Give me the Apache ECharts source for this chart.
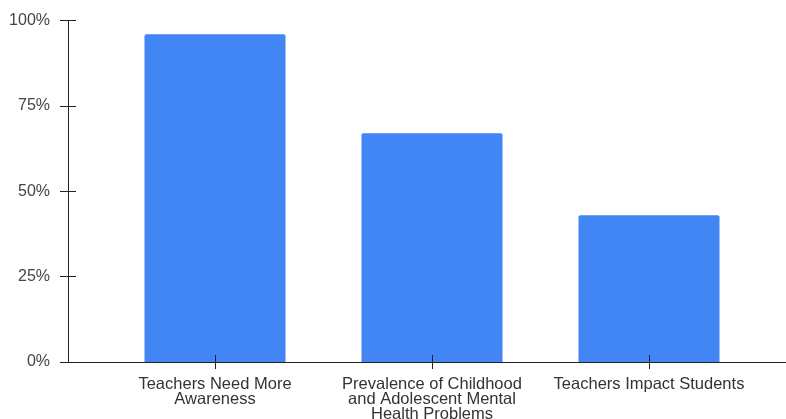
<!DOCTYPE html>
<html>
<head>
<meta charset="utf-8">
<script src="https://cdn.jsdelivr.net/npm/echarts@6/dist/echarts.min.js"></script>
<style>
html,body{margin:0;padding:0;background:#fff;}
#chart{width:786px;height:419px;}
</style>
</head>
<body>
<div id="chart"></div>
<script>
const categories = [
  "Teachers Need More\nAwareness",
  "Prevalence of Childhood\nand Adolescent Mental\nHealth Problems",
  "Teachers Impact Students"
];
const values = [96, 67, 43];
const yTicks = [0, 25, 50, 75, 100];

const FONT = "'Liberation Sans', Arial, sans-serif";
const chart = echarts.init(document.getElementById('chart'), null, {renderer: 'canvas'});
const frame = {top: 20.5, bottom: 57};
const barBox = {left: 106.5, right: 28.5};
const g = (l, r) => ({left: l, right: r, top: frame.top, bottom: frame.bottom, outerBoundsMode: 'none', containLabel: false});

chart.setOption({
  animation: false,
  grid: [g(68, 0), g(68, 0), g(barBox.left, barBox.right), g(barBox.left, barBox.right)],
  xAxis: [
    {gridIndex: 0, type: 'value', min: 0, max: 1, z: 10,
     axisLine: {show: true, onZero: false, lineStyle: {color: '#222', width: 1}},
     axisTick: {show: false}, axisLabel: {show: false}, splitLine: {show: false}},
    {gridIndex: 1, type: 'value', min: 0, max: 1, show: false},
    {gridIndex: 2, type: 'category', data: categories, z: 10,
     axisLine: {show: false},
     axisTick: {show: true, alignWithLabel: true, inside: false, length: 7, lineStyle: {color: '#222'}},
     axisLabel: {show: true, margin: 15, fontSize: 16.5, lineHeight: 15, color: '#333', fontFamily: FONT, interval: 0, align: 'center'},
     splitLine: {show: false}},
    {gridIndex: 3, type: 'category', data: categories, z: 10,
     axisLine: {show: false},
     axisTick: {show: true, alignWithLabel: true, inside: true, length: 7, lineStyle: {color: '#222'}},
     axisLabel: {show: false}, splitLine: {show: false}}
  ],
  yAxis: [
    {gridIndex: 0, type: 'value', min: yTicks[0], max: yTicks[yTicks.length-1], interval: 25, z: 10,
     axisLine: {show: true, lineStyle: {color: '#222', width: 1}},
     axisTick: {show: true, inside: false, length: 8, lineStyle: {color: '#222'}},
     axisLabel: {show: true, margin: 18, fontSize: 16, color: '#444', fontFamily: FONT, formatter: '{value}%'},
     splitLine: {show: false}},
    {gridIndex: 1, type: 'value', min: 0, max: 100, interval: 25, z: 10,
     axisLine: {show: false},
     axisTick: {show: true, inside: true, length: 8, lineStyle: {color: '#222'}},
     axisLabel: {show: false}, splitLine: {show: false}},
    {gridIndex: 2, type: 'value', min: 0, max: 100, show: false},
    {gridIndex: 3, type: 'value', min: 0, max: 100, show: false}
  ],
  series: [{
    type: 'bar',
    xAxisIndex: 2,
    yAxisIndex: 2,
    data: values,
    barWidth: 141,
    itemStyle: {color: '#4285F4', borderRadius: [2, 2, 0, 0]}
  }]
});
</script>
</body>
</html>
